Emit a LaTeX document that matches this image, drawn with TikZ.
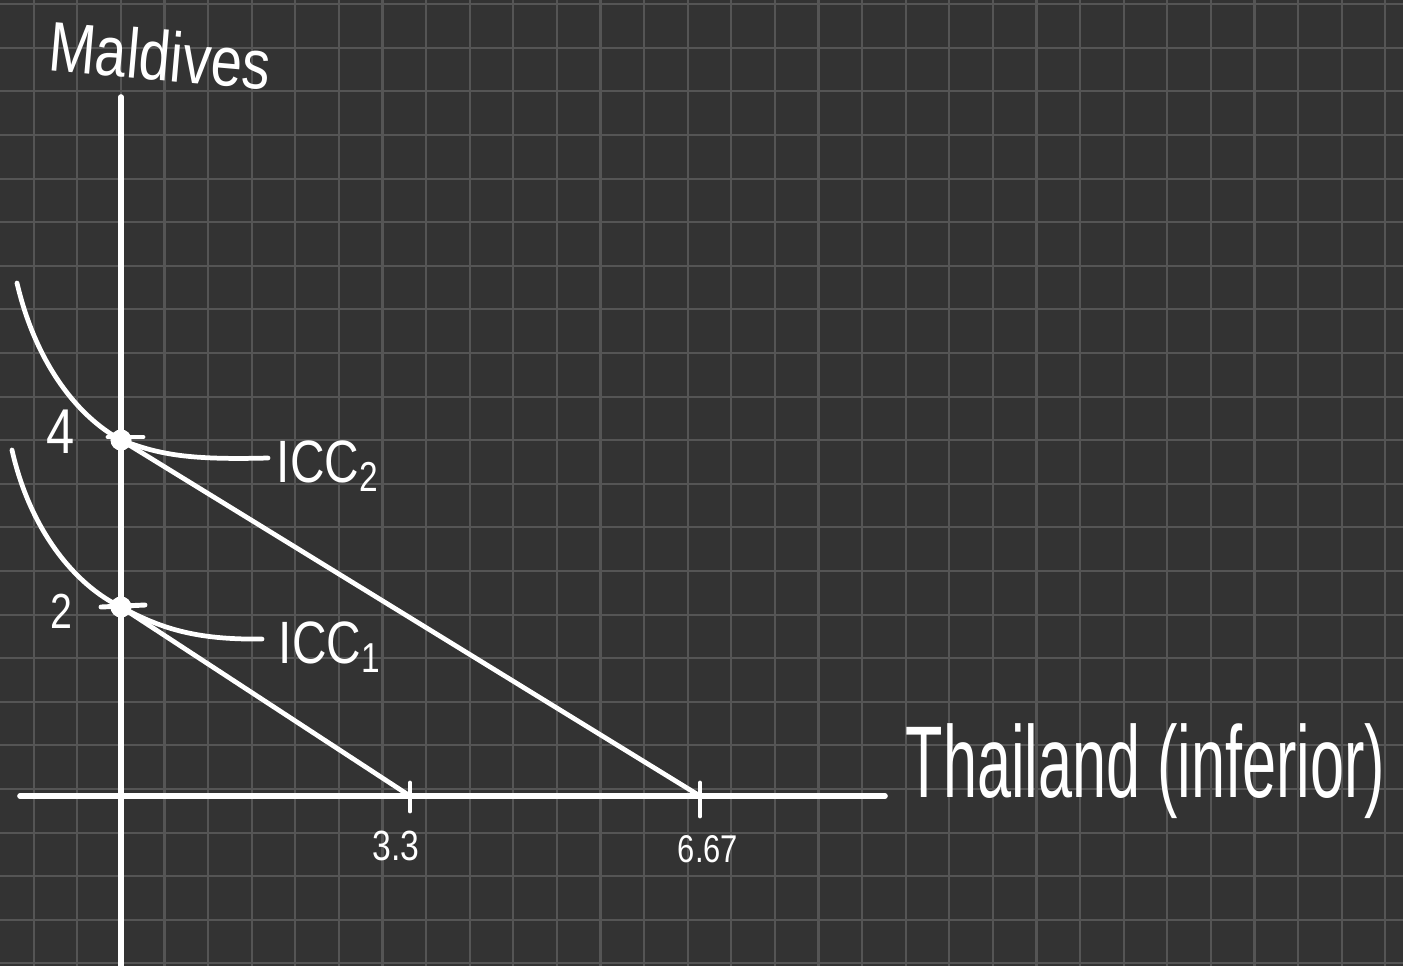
\documentclass[tikz,border=0pt]{standalone}
\usepackage{fontspec}
\usepackage{tikz}
\usetikzlibrary{positioning,calc}
\newfontfamily\handfont[FakeStretch=0.8]{Liberation Sans}
\newfontfamily\handnarrow[FakeStretch=0.6]{Liberation Sans}
\definecolor{BoardBg}{HTML}{333333}
\definecolor{BoardGrid}{HTML}{555555}
\definecolor{Chalk}{HTML}{FFFFFF}

\begin{document}
\begin{tikzpicture}[
  x=0.01cm,y=-0.01cm,
  gridline/.style={draw=BoardGrid,line width=0.6pt},
  axis/.style={draw=Chalk,line width=1.6pt,line cap=round},
  curve/.style={draw=Chalk,line width=1.35pt,line cap=round},
  tickmark/.style={draw=Chalk,line width=1.4pt,line cap=round},
  hand/.style={text=Chalk,inner sep=0pt,font=\handfont},
]
\useasboundingbox (0,0) rectangle (1403,966);
\fill[BoardBg] (0,0) rectangle (1403,966);
% squared paper
\foreach \gx in {0,...,31}
  \draw[gridline] ({33.7+43.6*\gx},0) -- ({33.7+43.6*\gx},966);
\foreach \gy in {0,...,22}
  \draw[gridline] (0,{4.2+43.6*\gy}) -- (1403,{4.2+43.6*\gy});

% axes
\coordinate (ytop) at (121,97);
\coordinate (ybot) at (121,966);
\coordinate (xleft) at (20,796);
\coordinate (xright) at (885,796);
\draw[axis] (ybot) -- (ytop);
\draw[axis] (xleft) -- (xright);
\node[hand,font=\handfont\fontsize{20}{24}\selectfont,rotate=-5] (ylabel) at (160,55) {Maldives};
\node[hand,font=\handnarrow\fontsize{29}{34}\selectfont,anchor=base west] (xlabel) at (905,797) {Thailand (inferior)};

% intercepts
\coordinate (b4) at (121,440);
\coordinate (b2) at (121,607);
\coordinate (x33) at (410,796);
\coordinate (x667) at (700,796);
\draw[curve] (b4) -- (x667);
\draw[curve] (b2) -- (x33);
\draw[tickmark] ($(x33)+(0,-13)$) -- ($(x33)+(0,15)$);
\draw[tickmark] ($(x667)+(0,-13)$) -- ($(x667)+(0,20)$);
\draw[tickmark] ($(b4)+(-13,-3)$) -- ($(b4)+(22,-3)$);
\draw[tickmark] ($(b2)+(-20,0)$) -- ($(b2)+(24,-2)$);
\fill[Chalk] (b4) circle (3pt);
\fill[Chalk] (b2) circle (3pt);
\node[hand,font=\handfont\fontsize{18}{20}\selectfont] (four) at (61,432) {4};
\node[hand,font=\handfont\fontsize{14}{16}\selectfont] (two) at (61,611) {2};
\node[hand,font=\handfont\fontsize{12}{14}\selectfont] (t33) at (396,846) {3.3};
\node[hand,font=\handfont\fontsize{11}{13}\selectfont] (t667) at (708,849) {6.67};

% indifference curves
\draw[curve] (17,283) .. controls (35,360) and (75,415) .. (b4)
  .. controls (160,455) and (190,460) .. (268,458);
\draw[curve] (12,450) .. controls (30,530) and (75,585) .. (b2)
  .. controls (160,628) and (195,640) .. (262,639);
\node[hand,font=\handfont\fontsize{17}{20}\selectfont,anchor=base west] (icctwo) at (276,482) {ICC\textsubscript{2}};
\node[hand,font=\handfont\fontsize{17}{20}\selectfont,anchor=base west] (iccone) at (278,663) {ICC\textsubscript{1}};
\end{tikzpicture}
\end{document}
